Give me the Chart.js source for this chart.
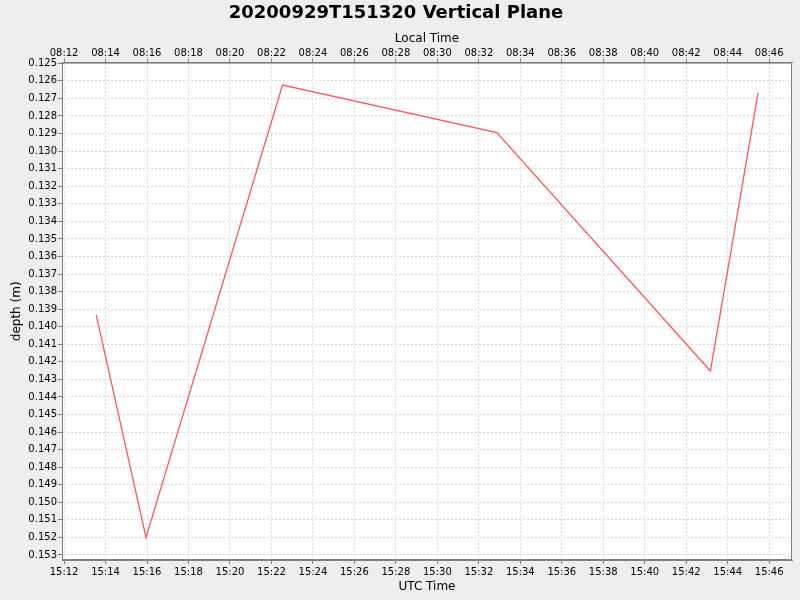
<!DOCTYPE html>
<html>
<head>
<meta charset="utf-8">
<script src="https://cdn.jsdelivr.net/npm/chart.js@4/dist/chart.umd.min.js"></script>
<style>
  html, body { margin: 0; padding: 0; background: #eeeeee; }
  #wrap { width: 800px; height: 600px; }
</style>
</head>
<body>
<div id="wrap"><canvas id="c" width="800" height="600"></canvas></div>
<script>
/* ================================================
   DATA
================================================ */

const titleText   = '20200929T151320 Vertical Plane';
const utcTimes    = ['15:13:33', '15:15:57', '15:22:32', '15:32:52', '15:43:10', '15:45:28'];
const depths      = [0.13933, 0.15200, 0.12624, 0.12895, 0.14252, 0.12667];

const xRange      = ['15:11:54', '15:47:06'];
const yRange      = [0.12496, 0.153285];
const xTickStepS  = 120;
const yTickFirst  = 0.125;
const yTickLast   = 0.153;
const localOffsetH = -7;

/* ================================================
   HELPERS
================================================ */

function toSec(hms) {
  const p = hms.split(':').map(Number);
  return p[0] * 3600 + p[1] * 60 + (p[2] || 0);
}

function fmtHM(sec) {
  sec = ((sec % 86400) + 86400) % 86400;
  const h = Math.floor(sec / 3600);
  const m = Math.floor((sec % 3600) / 60);
  return String(h).padStart(2, '0') + ':' + String(m).padStart(2, '0');
}

const xMin = toSec(xRange[0]);
const xMax = toSec(xRange[1]);

function xTicks() {
  const out = [];
  for (let v = Math.ceil(xMin / xTickStepS) * xTickStepS; v <= xMax; v += xTickStepS) out.push({ value: v });
  return out;
}

function yTicks() {
  const out = [];
  const n = Math.round((yTickLast - yTickFirst) * 1000);
  for (let i = 0; i <= n; i++) out.push({ value: +(yTickFirst + i / 1000).toFixed(3) });
  return out;
}

/* ================================================
   PLOT BACKGROUND + BORDER
================================================ */

const plotFrame = {
  id: 'plotFrame',
  beforeDraw(chart) {
    const { ctx, chartArea: a } = chart;
    ctx.save();
    ctx.fillStyle = '#ffffff';
    ctx.fillRect(a.left, a.top, a.right - a.left, a.bottom - a.top);
    ctx.restore();
  },
  afterDraw(chart) {
    const { ctx, chartArea: a } = chart;
    ctx.save();
    ctx.strokeStyle = '#808080';
    ctx.lineWidth = 1;
    ctx.strokeRect(a.left + 0.5, a.top + 0.5, a.right - a.left - 1, a.bottom - a.top - 1);
    ctx.restore();
  }
};

/* ================================================
   CHART
================================================ */

const FONT = "'DejaVu Sans', sans-serif";
const gridCol = '#d8d8d8';
const axisCol = '#808080';

new Chart(document.getElementById('c').getContext('2d'), {
  type: 'line',
  data: {
    datasets: [{
      data: utcTimes.map((t, i) => ({ x: toSec(t), y: depths[i] })),
      borderColor: '#ff5555',
      borderWidth: 1.3,
      pointRadius: 0,
      tension: 0,
      fill: false,
      xAxisID: 'x',
      yAxisID: 'y',
    }],
  },
  options: {
    responsive: false,
    animation: false,
    layout: { padding: { left: 0, right: 8, top: 0, bottom: 0 } },
    plugins: {
      legend: { display: false },
      tooltip: { enabled: false },
      title: {
        display: true,
        text: titleText,
        color: '#000000',
        font: { family: FONT, size: 18, weight: 'bold', lineHeight: 1.2 },
        padding: { top: 3, bottom: 0 },
      },
    },
    scales: {
      x: {
        type: 'linear',
        position: 'bottom',
        min: xMin,
        max: xMax,
        afterBuildTicks: s => { s.ticks = xTicks(); },
        afterFit: s => { s.height = 40; },
        ticks: {
          color: '#000000',
          font: { family: FONT, size: 10 },
          padding: 2,
          maxRotation: 0,
          autoSkip: false,
          callback: v => fmtHM(v),
        },
        grid: { color: gridCol, tickColor: axisCol, tickLength: 4, lineWidth: 1 },
        border: { color: axisCol, dash: [2, 2] },
        title: {
          display: true,
          text: 'UTC Time',
          color: '#000000',
          font: { family: FONT, size: 12 },
          padding: { top: 0, bottom: 6 },
        },
      },
      x2: {
        type: 'linear',
        position: 'top',
        min: xMin,
        max: xMax,
        afterBuildTicks: s => { s.ticks = xTicks(); },
        afterFit: s => { s.height = 38; },
        ticks: {
          color: '#000000',
          font: { family: FONT, size: 10 },
          padding: -1,
          maxRotation: 0,
          autoSkip: false,
          callback: v => fmtHM(v + localOffsetH * 3600),
        },
        grid: { drawOnChartArea: false, color: gridCol, tickColor: axisCol, tickLength: 4 },
        border: { color: axisCol },
        title: {
          display: true,
          text: 'Local Time',
          color: '#000000',
          font: { family: FONT, size: 12 },
          padding: { top: 7, bottom: 0 },
        },
      },
      y: {
        type: 'linear',
        reverse: true,
        min: yRange[0],
        max: yRange[1],
        afterBuildTicks: s => { s.ticks = yTicks(); },
        afterFit: s => { s.width = 62; },
        ticks: {
          color: '#000000',
          font: { family: FONT, size: 10 },
          padding: 1,
          autoSkip: false,
          callback: v => v.toFixed(3),
        },
        grid: { color: gridCol, tickColor: axisCol, tickLength: 4, lineWidth: 1 },
        border: { color: axisCol, dash: [2, 2] },
        title: {
          display: true,
          text: 'depth (m)',
          color: '#000000',
          font: { family: FONT, size: 12 },
          padding: { top: 10, bottom: 0 },
        },
      },
    },
  },
  plugins: [plotFrame],
});
</script>
</body>
</html>
